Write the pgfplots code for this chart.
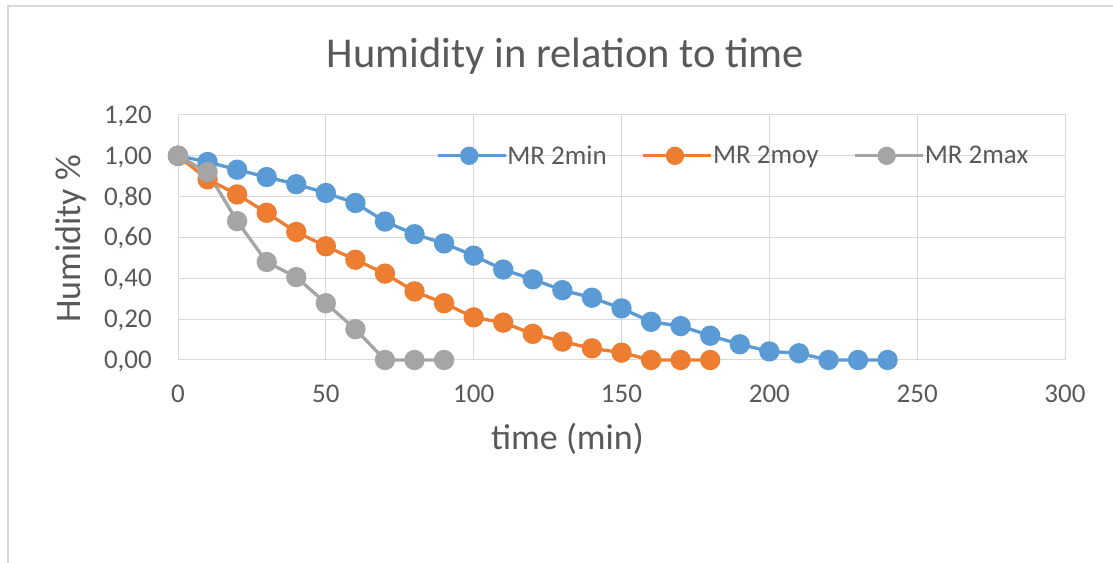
\documentclass[border=0pt]{standalone}
\usepackage{pgfplots}
\pgfplotsset{compat=1.18}
\usepackage{fontspec}
\setmainfont{Carlito}
\definecolor{cblue}{HTML}{5B9BD5}
\definecolor{corange}{HTML}{ED7D31}
\definecolor{cgray}{HTML}{A5A5A5}
\definecolor{ctext}{HTML}{595959}
\definecolor{cgrid}{HTML}{D9D9D9}
\begin{document}
\begin{tikzpicture}[x=1bp,y=1bp]
\useasboundingbox (0,0) rectangle (1113,563);
\fill[white] (0,0) rectangle (1113,563);
\draw[cgrid, line width=2bp] (8,0) -- (8,557) -- (1113,557);
\node[anchor=base, font=\fontsize{42.5bp}{50bp}\selectfont, text=ctext, inner sep=0pt] at (565.5,495) {Humidity in relation to time};
\begin{axis}[
  at={(178bp,203bp)}, anchor=south west,
  scale only axis, width=887bp, height=245bp,
  xmin=0, xmax=300, ymin=0, ymax=1.2,
  xtick={0,50,100,150,200,250,300},
  ytick={0,0.2,0.4,0.6,0.8,1.0,1.2},
  major tick length=0pt,
  grid=major,
  major grid style={cgrid, line width=1bp},
  axis line style={cgrid, line width=1bp},
  clip=false,
  /pgf/number format/assume math mode=true,
  ticklabel style={font=\fontsize{27bp}{32bp}\selectfont, text=ctext, inner sep=0pt},
  xticklabel style={anchor=base, yshift=-43bp},
  yticklabel style={anchor=base east, xshift=-26bp, yshift=-8.5bp,
    /pgf/number format/.cd, fixed, fixed zerofill, precision=2, use comma},
  xlabel={time (min)},
  ylabel={Humidity \%},
  every axis x label/.style={at={(axis description cs:0.4391,-0.3673)}, anchor=base, inner sep=0pt,
    font=\fontsize{36bp}{42bp}\selectfont, text=ctext},
  every axis y label/.style={at={(axis description cs:-0.1206,0.494)}, anchor=center, rotate=90, inner sep=0pt,
    font=\fontsize{36bp}{42bp}\selectfont, text=ctext},
  legend columns=3,
  legend cell align=left,
  legend style={at={(axis cs:87.2,1.0)}, anchor=west, draw=none, fill=none, inner sep=0pt,
    font=\fontsize{27bp}{32bp}\selectfont, text=ctext,
    nodes={inner sep=0pt},
    /tikz/every even column/.append style={column sep=35bp}},
  legend image code/.code={%
    \draw[#1, mark size=7.5bp, mark repeat=2, mark phase=2] plot coordinates {(0bp,0bp) (31.5bp,0bp) (63bp,0bp)};
    \path (63bp,0bp) -- (68bp,0bp);},
  every axis plot/.append style={line width=3.3bp, mark=*, mark size=8.5bp},
]
\addplot[cblue, mark options={fill=cblue, draw=cblue}] coordinates {
(0,1.00) (10,0.970) (20,0.932) (30,0.896) (40,0.861) (50,0.818) (60,0.769)
(70,0.678) (80,0.616) (90,0.571) (100,0.511) (110,0.443) (120,0.395)
(130,0.342) (140,0.305) (150,0.253) (160,0.187) (170,0.166) (180,0.119)
(190,0.077) (200,0.042) (210,0.033) (220,0) (230,0) (240,0)};
\addlegendentry{MR 2min}
\addplot[corange, mark options={fill=corange, draw=corange}] coordinates {
(0,1.00) (10,0.885) (20,0.811) (30,0.721) (40,0.627) (50,0.557) (60,0.491)
(70,0.423) (80,0.336) (90,0.278) (100,0.209) (110,0.183) (120,0.128)
(130,0.090) (140,0.057) (150,0.036) (160,0) (170,0) (180,0)};
\addlegendentry{MR 2moy}
\addplot[cgray, mark options={fill=cgray, draw=cgray}] coordinates {
(0,1.00) (10,0.920) (20,0.680) (30,0.480) (40,0.406) (50,0.278) (60,0.151)
(70,0) (80,0) (90,0)};
\addlegendentry{MR 2max}
\end{axis}
\end{tikzpicture}
\end{document}
